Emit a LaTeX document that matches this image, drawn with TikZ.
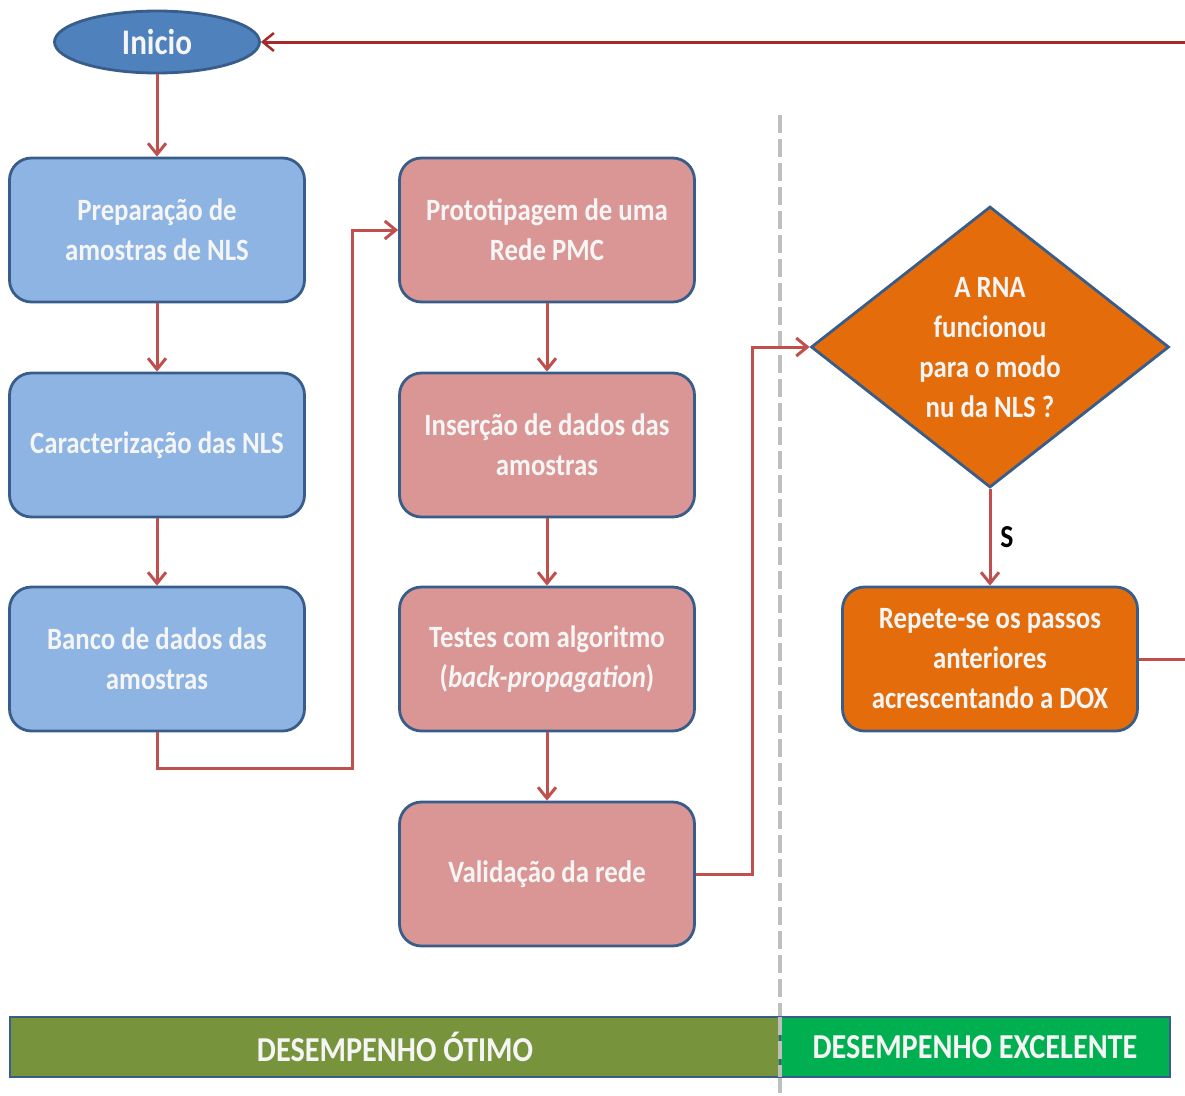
\documentclass[tikz,border=0pt]{standalone}
\usepackage{fontspec}
\setmainfont{Carlito}[FakeStretch=0.865]
\usetikzlibrary{arrows.meta,shapes.geometric}
\definecolor{bordblue}{HTML}{385D8A}
\definecolor{iniblue}{HTML}{4F81BD}
\definecolor{boxblue}{HTML}{8DB4E2}
\definecolor{boxpink}{HTML}{D99694}
\definecolor{boxorange}{HTML}{E46C0A}
\definecolor{arrred}{HTML}{C0504D}
\definecolor{toprred}{HTML}{A52A2A}
\definecolor{barolive}{HTML}{77933C}
\definecolor{bargreen}{HTML}{00B050}
\definecolor{dashgray}{HTML}{BFBFBF}
\definecolor{txtwhite}{HTML}{F5F5F5}
\tikzset{
  txt/.style={font=\fontsize{31}{40}\selectfont\bfseries, text=txtwhite, align=center},
  stepbox/.style={txt, draw=bordblue, line width=2.8pt, rounded corners=22pt,
    minimum width=295pt, minimum height=144pt, inner sep=0pt},
  bluebox/.style={stepbox, fill=boxblue},
  pinkbox/.style={stepbox, fill=boxpink},
  orangebox/.style={stepbox, fill=boxorange},
  conn/.style={draw=arrred, line width=3pt, -{Straight Barb[length=11pt,width=18pt,line width=3pt]}},
  connplain/.style={draw=arrred, line width=3pt},
  bar/.style={txt, font=\fontsize{35}{40}\selectfont\bfseries, draw=bordblue, line width=2.8pt, minimum height=60pt, inner sep=0pt},
}
\begin{document}
\begin{tikzpicture}[x=1pt,y=-1pt]
\useasboundingbox (0,0) rectangle (1185,1095);
% dashed separator
\coordinate (d1) at (780,115);
\coordinate (d2) at (780,1095);
\draw[dashgray, line width=4pt, dash pattern=on 18pt off 6pt] (d1) -- (d2);

% start
\node[ellipse, draw=bordblue, line width=2.8pt, fill=iniblue, minimum width=205pt, minimum height=62pt, inner sep=0pt,
  font=\fontsize{36}{40}\selectfont\bfseries, text=txtwhite] (ini) at (157,42) {Inicio};

% left column
\node[bluebox] (p1) at (157,230) {Preparação de\\amostras de NLS};
\node[bluebox] (p2) at (157,445) {Caracterização das NLS};
\node[bluebox] (p3) at (157,659) {Banco de dados das\\amostras};

% middle column
\node[pinkbox] (m1) at (547,230) {Prototipagem de uma\\Rede PMC};
\node[pinkbox] (m2) at (547,445) {Inserção de dados das\\amostras};
\node[pinkbox] (m3) at (547,659) {Testes com algoritmo\\(\textit{back-propagation})};
\node[pinkbox] (m4) at (547,874) {Validação da rede};

% decision
\node[diamond, draw=bordblue, line width=2.8pt, fill=boxorange, minimum width=358pt, minimum height=281pt, inner sep=0pt] (dia) at (990,347) {};
\node[txt] (diatxt) at (990,348) {A RNA\\funcionou\\para o modo\\nu da NLS ?};
\node[orangebox] (rep) at (990,659) {Repete-se os passos\\anteriores\\acrescentando a DOX};
\node[font=\fontsize{32}{36}\selectfont\bfseries, text=black] (s) at (1007,537) {S};

% bars
\node[bar, fill=barolive, minimum width=770pt] (b1) at (395,1047) {DESEMPENHO ÓTIMO};
\node[bar, fill=bargreen, minimum width=390pt] (b2) at (975,1047) {DESEMPENHO EXCELENTE};
\draw[dashgray, line width=4pt, dash pattern=on 18pt off 6pt] (780,1017) -- (780,1077);

% connectors
\draw[conn] (ini.south) -- (p1.north);
\draw[conn] (p1.south) -- (p2.north);
\draw[conn] (p2.south) -- (p3.north);
\coordinate (c1) at (352,768);
\draw[conn] (p3.south) |- (c1) |- (m1.west);
\draw[conn] (m1.south) -- (m2.north);
\draw[conn] (m2.south) -- (m3.north);
\draw[conn] (m3.south) -- (m4.north);
\coordinate (c2) at (752,874);
\draw[conn] (m4.east) -- (c2) |- (dia.west);
\draw[conn] (dia.south) -- (rep.north);
\coordinate (e1) at (1185,659);
\draw[connplain] (rep.east) -- (e1);
\coordinate (e2) at (1185,42);
\draw[draw=toprred, line width=3pt, -{Straight Barb[length=11pt,width=18pt,line width=2.5pt]}] (e2) -- (ini.east);
\end{tikzpicture}
\end{document}
